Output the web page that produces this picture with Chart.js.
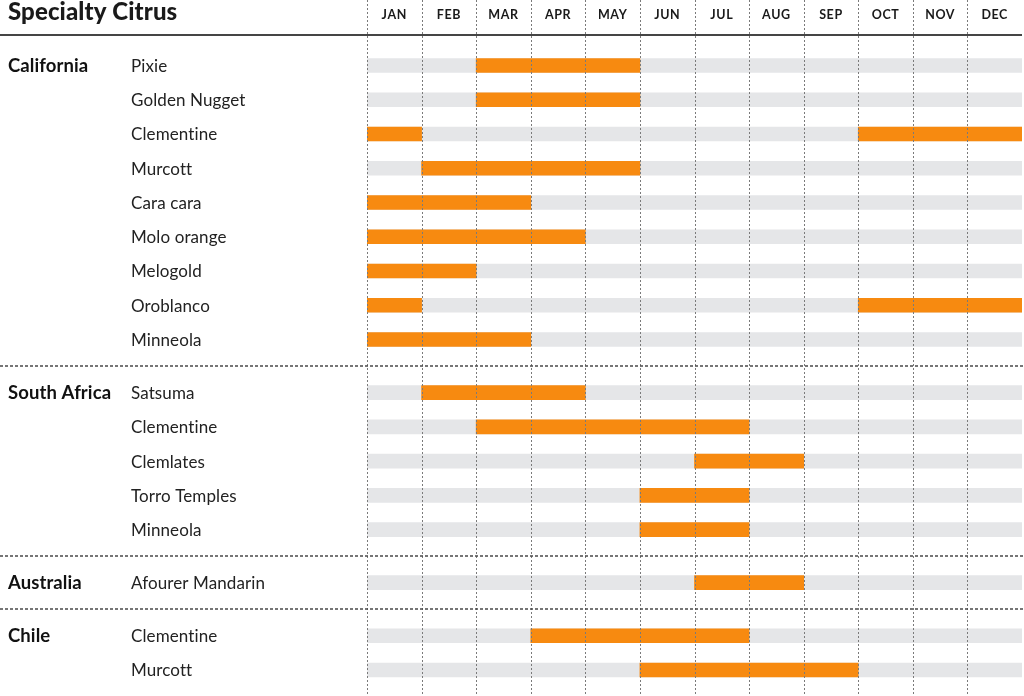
<!DOCTYPE html>
<html>
<head>
<meta charset="utf-8">
<script src="https://cdn.jsdelivr.net/npm/chart.js@4.4.1/dist/chart.umd.min.js"></script>
<style>
  html, body { margin: 0; padding: 0; background: #fff; }
  #wrap { width: 1024px; height: 696px; position: relative; }
</style>
</head>
<body>
<div id="wrap"><canvas id="myCanvas"></canvas></div>
<script>
const title = 'Specialty Citrus';
const months = ['JAN', 'FEB', 'MAR', 'APR', 'MAY', 'JUN', 'JUL', 'AUG', 'SEP', 'OCT', 'NOV', 'DEC'];
const regions = ['California', 'South Africa', 'Australia', 'Chile'];
const varieties = ['Pixie', 'Golden Nugget', 'Clementine', 'Murcott', 'Cara cara', 'Molo orange', 'Melogold', 'Oroblanco', 'Minneola',
                   'Satsuma', 'Clementine', 'Clemlates', 'Torro Temples', 'Minneola',
                   'Afourer Mandarin',
                   'Clementine', 'Murcott'];
const varietyRegion = [0, 0, 0, 0, 0, 0, 0, 0, 0, 1, 1, 1, 1, 1, 2, 3, 3];
// first and last month of each season (1 = Jan), inclusive
const seasons = [
    [[3, 5]], [[3, 5]], [[1, 1], [10, 12]], [[2, 5]], [[1, 3]], [[1, 4]], [[1, 2]], [[1, 1], [10, 12]], [[1, 3]],
    [[2, 4]], [[3, 7]], [[7, 8]], [[6, 7]], [[6, 7]],
    [[7, 8]],
    [[4, 7]], [[6, 9]]
];

// rows, with a bit of extra room between regions
const rowPos = varieties.map((v, i) => i + varietyRegion[i] * 0.55);

const bgData = rowPos.map(y => ({ x: [0, 12], y: y }));
const seasonData = [];
seasons.forEach((segs, i) => {
    segs.forEach(s => seasonData.push({ x: [s[0] - 1, s[1]], y: rowPos[i] }));
});

const FONT = 'Lato, "Noto Sans", sans-serif';

const decor = {
    id: 'decor',
    afterDatasetsDraw(chart) {
        const c = chart.ctx;
        const xs = chart.scales.x, ys = chart.scales.y;
        c.save();

        // month columns
        c.strokeStyle = '#7a7a7a';
        c.lineWidth = 1;
        c.setLineDash([2, 2]);
        for (let m = 0; m < 12; m++) {
            const px = Math.round(xs.getPixelForValue(m)) + 0.5;
            c.beginPath();
            c.moveTo(px, 0);
            c.lineTo(px, chart.height);
            c.stroke();
        }

        // region separators
        c.strokeStyle = '#4a4a4a';
        c.lineWidth = 1.6;
        c.setLineDash([3, 2]);
        for (let i = 1; i < rowPos.length; i++) {
            if (varietyRegion[i] !== varietyRegion[i - 1]) {
                const py = Math.round(ys.getPixelForValue((rowPos[i] + rowPos[i - 1]) / 2));
                c.beginPath();
                c.moveTo(0, py);
                c.lineTo(chart.width, py);
                c.stroke();
            }
        }

        // header rule
        c.setLineDash([]);
        c.strokeStyle = '#454545';
        c.lineWidth = 2.2;
        const hy = ys.getPixelForValue(-0.89);
        c.beginPath();
        c.moveTo(0, hy);
        c.lineTo(xs.getPixelForValue(12), hy);
        c.stroke();

        // title
        c.fillStyle = '#1a1a1a';
        c.textBaseline = 'alphabetic';
        c.textAlign = 'left';
        c.font = '900 24px ' + FONT;
        c.letterSpacing = '0.1px';
        c.fillText(title, 8, 20);

        // month labels
        c.font = 'bold 12.5px ' + FONT;
        c.textAlign = 'center';
        c.letterSpacing = '0.6px';
        months.forEach((m, i) => {
            c.fillText(m, xs.getPixelForValue(i + 0.5), 19);
        });

        // row labels
        c.textAlign = 'left';
        c.letterSpacing = '0.1px';
        let lastRegion = -1;
        varieties.forEach((v, i) => {
            const py = ys.getPixelForValue(rowPos[i]) + 6.5;
            if (varietyRegion[i] !== lastRegion) {
                c.font = 'bold 18.5px ' + FONT;
                c.fillStyle = '#111';
                c.fillText(regions[varietyRegion[i]], 8, py);
                lastRegion = varietyRegion[i];
            }
            c.font = '17px ' + FONT;
            c.fillStyle = '#222';
            c.fillText(v, 131, py);
        });
        c.restore();
    }
};

const ctx = document.getElementById('myCanvas').getContext('2d');

const myChart = new Chart(ctx, {
    type: 'bar',
    data: {
        datasets: [
            {
                label: 'Season',
                data: seasonData,
                backgroundColor: '#f78a10',
                barThickness: 14,
                grouped: false,
                order: 1,
            },
            {
                label: 'Year',
                data: bgData,
                backgroundColor: '#e5e6e8',
                barThickness: 14,
                grouped: false,
                order: 2,
            }
        ]
    },
    options: {
        indexAxis: 'y',
        responsive: true,
        maintainAspectRatio: false,
        animation: false,
        layout: { padding: { left: 367, right: 2, top: 0, bottom: 0 } },
        plugins: {
            legend: { display: false },
            tooltip: { enabled: false },
        },
        scales: {
            x: {
                type: 'linear',
                display: false,
                min: 0,
                max: 12,
            },
            y: {
                type: 'linear',
                display: false,
                offset: false,
                reverse: true,
                min: -1.912,
                max: 18.41,
            }
        }
    },
    plugins: [decor]
});
</script>
</body>
</html>
